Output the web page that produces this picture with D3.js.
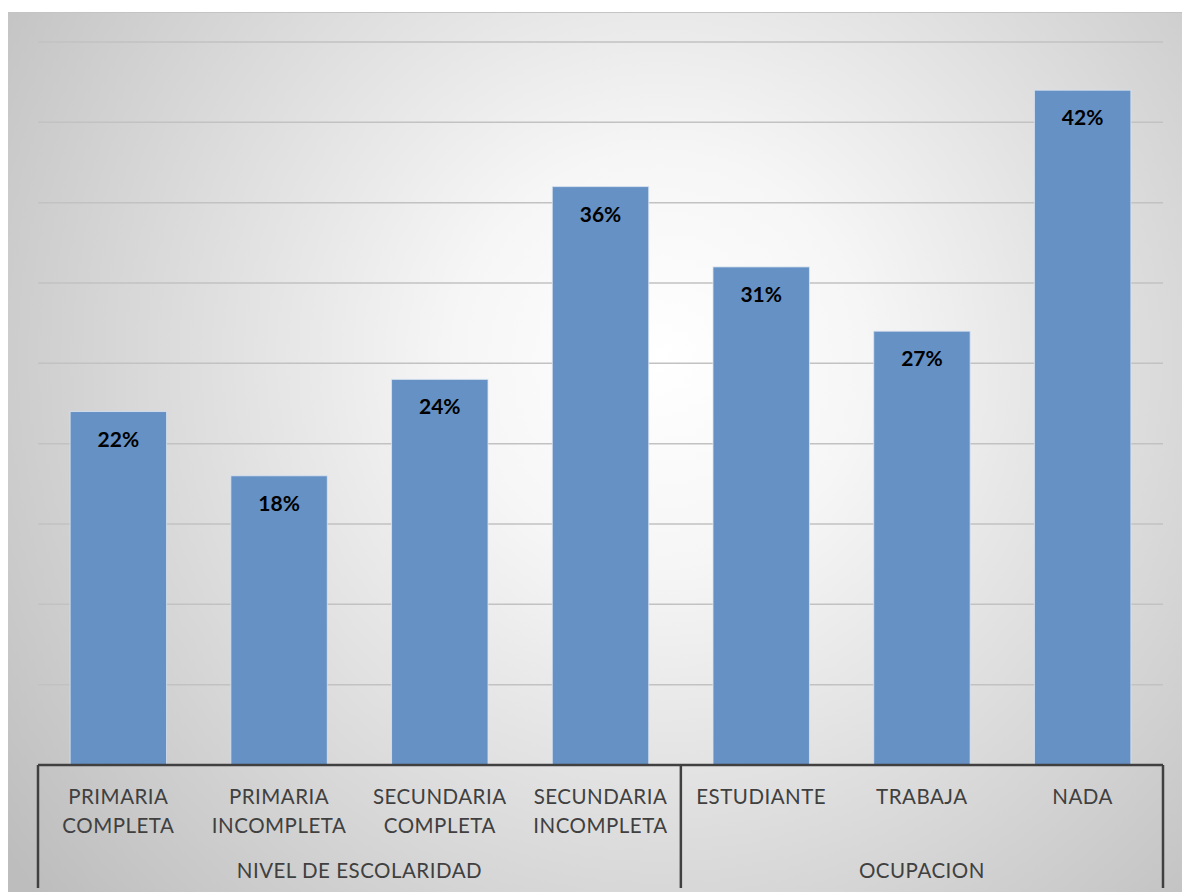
<!DOCTYPE html>
<html>
<head>
<meta charset="utf-8">
<script src="https://cdn.jsdelivr.net/npm/d3@7"></script>
<style>
  html, body { margin: 0; padding: 0; background: #ffffff; }
  svg { display: block; }
</style>
</head>
<body>
<svg id="chart" width="1182" height="892"></svg>
<script>
// Category labels (two lines each), grouping, and percentages
const categories = ["PRIMARIA COMPLETA", "PRIMARIA INCOMPLETA", "SECUNDARIA COMPLETA", "SECUNDARIA INCOMPLETA", "ESTUDIANTE", "TRABAJA", "NADA"];
const categoryLines = [["PRIMARIA", "COMPLETA"], ["PRIMARIA", "INCOMPLETA"], ["SECUNDARIA", "COMPLETA"], ["SECUNDARIA", "INCOMPLETA"], ["ESTUDIANTE"], ["TRABAJA"], ["NADA"]];
const values = [22, 18, 24, 36, 31, 27, 42];
const groups = ["NIVEL DE ESCOLARIDAD", "OCUPACION"];
const groupSizes = [4, 3];
const yTicks = [5, 10, 15, 20, 25, 30, 35, 40, 45];

const svg = d3.select("#chart");
const W = 1182, H = 892;

// Chart area background: soft radial gradient
const defs = svg.append("defs");
const grad = defs.append("radialGradient")
  .attr("id", "bg")
  .attr("gradientUnits", "userSpaceOnUse")
  .attr("cx", 660).attr("cy", 360).attr("r", 820);
grad.append("stop").attr("offset", "0").attr("stop-color", "#ffffff");
grad.append("stop").attr("offset", "0.25").attr("stop-color", "#f6f6f6");
grad.append("stop").attr("offset", "1").attr("stop-color", "#bdbdbd");

svg.append("rect")
  .attr("x", 8).attr("y", 12).attr("width", W - 8).attr("height", H - 12)
  .attr("fill", "url(#bg)");
svg.append("line")
  .attr("x1", 8).attr("x2", W).attr("y1", 12.5).attr("y2", 12.5)
  .attr("stroke", "#c4c4c4").attr("stroke-width", 1);

const plot = { left: 38, right: 1163, top: 42, bottom: 765 };

const x = d3.scaleBand()
  .domain(categories)
  .range([plot.left, plot.right])
  .paddingInner(0.4)
  .paddingOuter(0.2);

const y = d3.scaleLinear()
  .domain([0, 45])
  .range([plot.bottom, plot.top]);

// Horizontal gridlines
svg.append("g")
  .selectAll("line")
  .data(yTicks)
  .join("line")
  .attr("x1", plot.left).attr("x2", plot.right)
  .attr("y1", d => y(d)).attr("y2", d => y(d))
  .attr("stroke", "#c2c2c2").attr("stroke-width", 1.5);

// Bars
svg.append("g")
  .selectAll("rect")
  .data(values)
  .join("rect")
  .attr("x", (d, i) => x(categories[i]))
  .attr("y", d => y(d))
  .attr("width", x.bandwidth())
  .attr("height", d => plot.bottom - y(d))
  .attr("fill", "#6691c5")
  .attr("stroke", "#dbe5f1")
  .attr("stroke-opacity", 0.8)
  .attr("stroke-width", 1);

// Value labels inside the top of each bar
svg.append("g")
  .selectAll("text")
  .data(values)
  .join("text")
  .attr("x", (d, i) => x(categories[i]) + x.bandwidth() / 2)
  .attr("y", d => y(d) + 35)
  .attr("text-anchor", "middle")
  .attr("font-family", "Lato, 'Open Sans', sans-serif")
  .attr("font-weight", "bold")
  .attr("font-size", 21)
  .attr("fill", "#000000")
  .text(d => d + "%");

// Category axis with grouped labels
const axisColor = "#404040";
const step = x.step();
const axisG = svg.append("g");
axisG.append("line")
  .attr("x1", plot.left).attr("x2", plot.right)
  .attr("y1", plot.bottom).attr("y2", plot.bottom)
  .attr("stroke", axisColor).attr("stroke-width", 2.5);

// Group boundaries
const bounds = [0];
groupSizes.reduce((acc, n) => { bounds.push(acc + n); return acc + n; }, 0);
axisG.selectAll("line.sep")
  .data(bounds)
  .join("line")
  .attr("class", "sep")
  .attr("x1", d => plot.left + d * step).attr("x2", d => plot.left + d * step)
  .attr("y1", plot.bottom).attr("y2", 888)
  .attr("stroke", axisColor).attr("stroke-width", 2.5);

const labelFont = "Lato, 'Open Sans', sans-serif";
categories.forEach((c, i) => {
  const cx = x(c) + x.bandwidth() / 2;
  const t = axisG.append("text")
    .attr("text-anchor", "middle")
    .attr("font-family", labelFont)
    .attr("font-size", 20.5)
    .attr("letter-spacing", 0.5)
    .attr("fill", axisColor);
  categoryLines[i].forEach((line, k) => {
    t.append("tspan").attr("x", cx).attr("y", 804 + k * 28.5).text(line);
  });
});

groups.forEach((g, i) => {
  const cx = plot.left + (bounds[i] + bounds[i + 1]) / 2 * step;
  axisG.append("text")
    .attr("x", cx).attr("y", 878)
    .attr("text-anchor", "middle")
    .attr("font-family", labelFont)
    .attr("font-size", 20.5)
    .attr("letter-spacing", 0.5)
    .attr("fill", axisColor)
    .text(g);
});
</script>
</body>
</html>
